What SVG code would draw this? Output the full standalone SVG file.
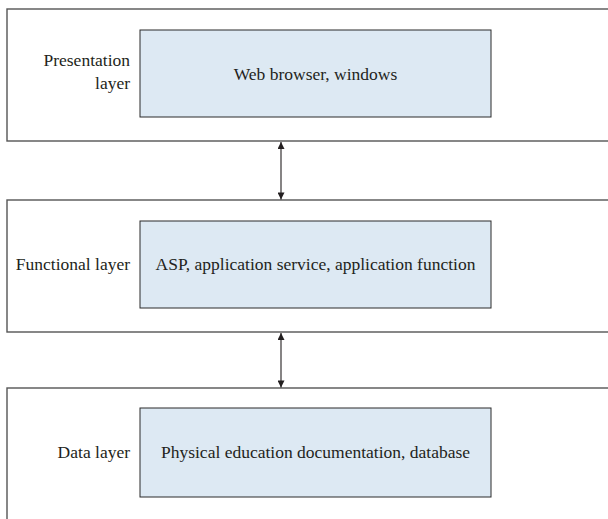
<svg xmlns="http://www.w3.org/2000/svg" width="608" height="519" viewBox="0 0 608 519">
<defs>
<style>
.outer{fill:#fff;stroke:#555;stroke-width:1.4}
.inner{fill:#dde9f3;stroke:#2a2a2a;stroke-width:1}
text{font-family:"Liberation Serif","Times New Roman",Times,"DejaVu Serif",serif;font-size:17.5px;fill:#231f20}
.conn{stroke:#231f20;stroke-width:1.1;fill:none}
</style>
<marker id="ah" viewBox="0 0 10 10" refX="10" refY="5" markerWidth="10" markerHeight="7" markerUnits="userSpaceOnUse" orient="auto-start-reverse">
<path d="M0,0 L10,5 L0,10 Z" fill="#231f20"/>
</marker>
</defs>
<rect width="608" height="519" fill="#fff"/>
<g id="presentation">
<rect class="outer" x="7" y="9" width="610" height="132"/>
<rect class="inner" x="140" y="30" width="351" height="87"/>
<text x="130" y="66" text-anchor="end">Presentation</text>
<text x="130" y="89" text-anchor="end">layer</text>
<text x="315.5" y="79.5" text-anchor="middle">Web browser, windows</text>
</g>
<g id="functional">
<rect class="outer" x="7" y="200" width="610" height="132"/>
<rect class="inner" x="140" y="221" width="351" height="87"/>
<text x="130" y="270" text-anchor="end">Functional layer</text>
<text x="315.5" y="270" text-anchor="middle">ASP, application service, application function</text>
</g>
<g id="data">
<rect class="outer" x="7" y="388" width="610" height="140"/>
<rect class="inner" x="140" y="408" width="351" height="89"/>
<text x="130" y="458" text-anchor="end">Data layer</text>
<text x="315.5" y="458" text-anchor="middle">Physical education documentation, database</text>
</g>
<g id="connectors">
<line class="conn" x1="281" y1="142" x2="281" y2="199.5" marker-start="url(#ah)" marker-end="url(#ah)"/>
<line class="conn" x1="281" y1="333" x2="281" y2="387.5" marker-start="url(#ah)" marker-end="url(#ah)"/>
</g>
</svg>
